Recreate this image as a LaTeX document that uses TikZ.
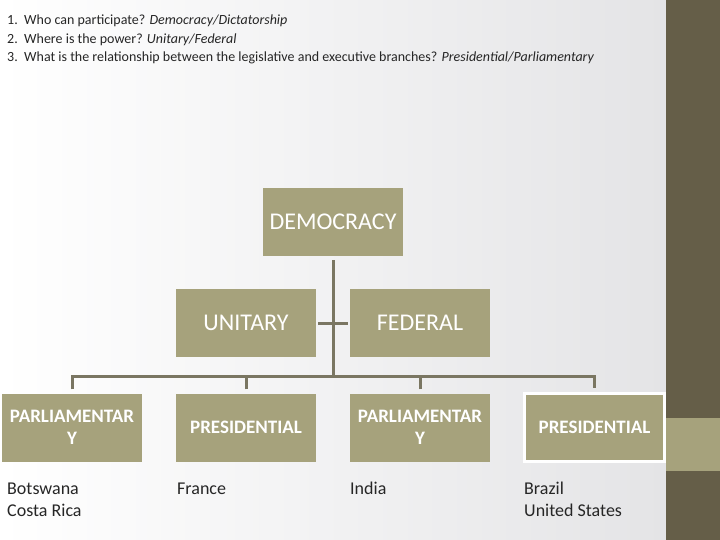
\documentclass[tikz,border=0pt]{standalone}
\usepackage{fontspec}
\setmainfont{Carlito}
\usetikzlibrary{positioning}
\definecolor{khaki}{HTML}{A6A27C}
\definecolor{bark}{HTML}{655E48}
\definecolor{stem}{HTML}{7A7662}
\definecolor{ink}{HTML}{262626}
\definecolor{mist}{HTML}{E4E4E6}

\begin{document}
\begin{tikzpicture}[x=1pt, y=-1pt,
    box/.style={fill=khaki, text=white, minimum width=140pt, minimum height=68pt, inner sep=0pt, align=center},
    topbox/.style={box, font=\fontsize{24}{28}\selectfont},
    lowbox/.style={box, font=\fontsize{19}{22}\selectfont\bfseries},
    country/.style={anchor=north west, align=left, text=ink, inner sep=0pt, font=\fontsize{18}{22}\selectfont},
    conn/.style={draw=stem, line width=3pt}]

        \useasboundingbox (0,0) rectangle (720,540);

        % Background and side band
        \shade[left color=white, right color=mist] (0,0) rectangle (666,540);
        \fill[bark] (666,0) rectangle (720,540);
        \fill[khaki] (666,418) rectangle (720,471);

        % Questions at the top
        \node[anchor=north west, align=left, inner sep=0pt, text=ink, font=\fontsize{14}{18.5}\selectfont] (questions) at (7,15)
            {\makebox[17pt][l]{1.}Who can participate? \textit{Democracy/Dictatorship}\\
             \makebox[17pt][l]{2.}Where is the power? \textit{Unitary/Federal}\\
             \makebox[17pt][l]{3.}What is the relationship between the legislative and executive branches? \textit{Presidential/Parliamentary}};

        % Nodes for the top of the chart
        \node[topbox] (democracy) at (333, 222) {DEMOCRACY};
        \node[topbox] (unitary) at (246, 323) {UNITARY};
        \node[topbox] (federal) at (420, 323) {FEDERAL};

        % Nodes for the bottom row
        \node[lowbox] (parlA) at (72, 427.5) {PARLIAMENTAR\\Y};
        \node[lowbox] (presA) at (246, 427.5) {PRESIDENTIAL};
        \node[lowbox] (parlB) at (420, 427.5) {PARLIAMENTAR\\Y};
        \node[lowbox, draw=white, line width=3pt] (presB) at (594.5, 427.5) {PRESIDENTIAL};

        % Edges of the chart
        \coordinate (bar) at (333, 376);
        \draw[conn, shorten <=4pt] (democracy) -- (bar);
        \draw[conn, shorten <=2pt, shorten >=2pt] (unitary) -- (federal);
        \draw[conn, shorten <=4pt, shorten >=4pt] (parlA.north) |- (bar) -| (presB.north);
        \draw[conn, shorten <=4pt] (presA.north) -- (presA.north |- bar);
        \draw[conn, shorten <=4pt] (parlB.north) -- (parlB.north |- bar);

        % Countries under each box
        \node[country] (botswana) at (7, 478.6) {\strut Botswana\\Costa Rica};
        \node[country] (france) at (177, 478.6) {\strut France};
        \node[country] (india) at (350, 478.6) {\strut India};
        \node[country] (brazil) at (524, 478.6) {\strut Brazil\\United States};

\end{tikzpicture}
\end{document}
